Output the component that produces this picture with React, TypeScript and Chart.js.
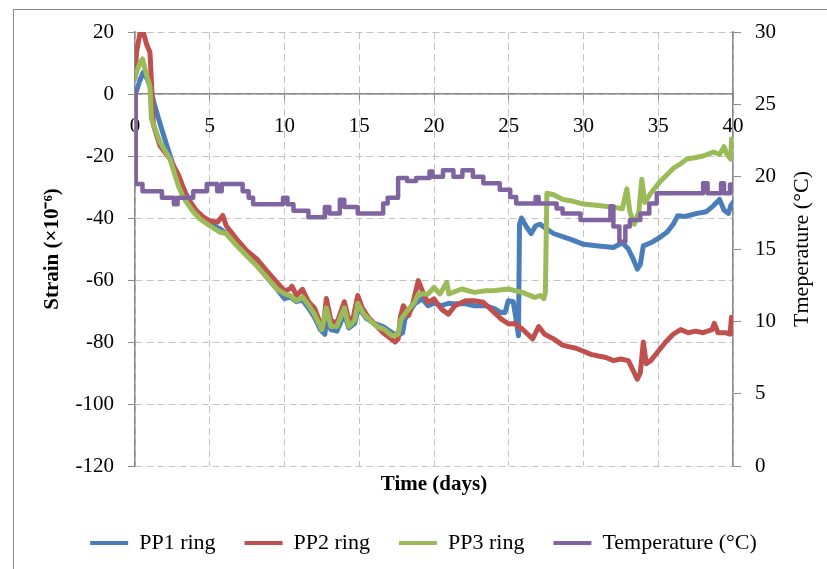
import React, { useEffect, useRef } from "react";
import { Chart, registerables } from "chart.js";

Chart.register(...registerables);

const FONT = "'Liberation Serif', 'Times New Roman', serif";
const GRID = "#c4c4c4";
const AXIS = "#8a8a8a";

const seriesNames = ["PP1 ring", "PP2 ring", "PP3 ring", "Temperature (°C)"];
const seriesColors = ["#4a7ebb", "#c0504d", "#9bbb59", "#8064a2"];
const xTitle = "Time (days)";
const yTitle = "Strain (×10⁻⁶)";
const y2Title = "Tmeperature (°C)";

// PP1 ring (strain, ×10^-6)
const pp1Days = [0, 0.1, 0.3, 0.55, 0.8, 1.0, 1.25, 1.7, 2.35, 2.9, 3.5, 3.9, 4.4, 5.0, 5.7, 6.1, 6.8, 7.5, 8.1, 8.8, 9.5, 10.0, 10.4, 10.8, 11.2, 11.6, 12.0, 12.4, 12.7, 12.85, 13.1, 13.5, 14.0, 14.3, 14.7, 14.95, 15.5, 16.0, 16.6, 17.2, 17.6, 17.9, 18.06, 18.4, 18.7, 19.2, 19.6, 20.0, 20.5, 21.0, 21.4, 22.1, 22.7, 23.5, 24.1, 24.5, 24.75, 24.97, 25.3, 25.5, 25.65, 25.72, 25.85, 26.2, 26.5, 26.8, 27.1, 27.5, 28.0, 28.6, 29.2, 30.0, 31.0, 32.0, 32.6, 33.0, 33.3, 33.6, 33.8, 34.0, 34.5, 35.1, 35.6, 36.0, 36.3, 36.8, 37.6, 38.2, 38.7, 39.1, 39.4, 39.7, 39.85, 40.0];
const pp1Strain = [0, 1, 4, 7, 5, 2.6, -2.6, -10, -20, -28, -33, -37, -39.5, -42, -43.5, -45, -48.5, -52, -55, -59, -63, -66, -65.5, -67, -66.5, -69, -72, -76, -77.5, -71, -76, -76.5, -71, -75.5, -74, -69, -72.5, -74, -75, -77, -78, -77, -72.6, -70, -67.7, -66, -68.3, -67.5, -68.3, -67.5, -67.7, -67.7, -68.3, -68.3, -69.4, -70.5, -70.5, -66.7, -67, -73, -78, -42, -40, -43, -45, -42.5, -42, -43.5, -45, -46, -47, -48.5, -49, -49.5, -48, -50, -53, -56.5, -55, -49, -48, -46.3, -44.5, -42, -39.3, -39.5, -38.5, -38, -36, -34, -37.5, -38.5, -36, -35];

// PP2 ring
const pp2Days = [0, 0.1, 0.35, 0.55, 0.78, 1.0, 1.1, 1.23, 1.67, 2.34, 2.9, 3.46, 4.1, 4.6, 5.0, 5.5, 5.87, 6.1, 6.8, 7.47, 8.14, 8.8, 9.48, 10.0, 10.37, 10.5, 10.8, 11.2, 11.6, 12.0, 12.4, 12.6, 12.8, 13.1, 13.5, 14.0, 14.3, 14.6, 14.9, 15.2, 15.6, 16.0, 16.6, 17.0, 17.4, 17.6, 17.75, 17.95, 18.3, 18.6, 18.95, 19.3, 19.6, 20.0, 20.5, 20.96, 21.4, 22.1, 22.7, 23.3, 23.9, 24.5, 25.0, 25.4, 25.9, 26.6, 27.0, 27.4, 28.0, 28.6, 29.0, 29.5, 30.0, 30.5, 31.0, 31.5, 32.0, 32.5, 33.0, 33.3, 33.6, 33.8, 34.0, 34.2, 34.5, 35.0, 35.5, 36.0, 36.5, 37.0, 37.5, 38.0, 38.6, 38.75, 39.0, 39.5, 39.8, 39.9, 40.0];
const pp2Strain = [5, 13.5, 20, 20, 16, 13.5, 4, -10, -16.7, -21, -26, -33, -37.6, -39.8, -40.9, -41.4, -39.2, -42.5, -46.8, -50.5, -53.2, -57, -60.7, -63.5, -62.9, -62, -65, -63, -67, -69, -74, -75, -66, -73, -74, -67, -73, -72, -65, -69, -72, -74, -77, -78.5, -80, -79, -72, -68.3, -71.5, -67.2, -60.2, -64.5, -67.2, -66.1, -69.4, -71, -68.3, -66.7, -66.7, -67.2, -69.9, -72.6, -74.2, -74, -75.8, -79, -75, -77.5, -79, -81, -81.5, -82, -83, -84, -84.5, -85, -86, -85.5, -86, -89, -92, -90, -80, -87, -86, -83, -80, -77.5, -76, -77, -76.5, -77, -76, -74, -77, -77, -77.5, -72, -72];

// PP3 ring
const pp3Days = [0, 0.1, 0.33, 0.5, 0.78, 1.0, 1.1, 1.67, 2.34, 2.9, 3.2, 3.46, 3.9, 4.35, 5.0, 5.7, 6.1, 6.8, 7.47, 8.14, 8.8, 9.5, 10.0, 10.37, 10.8, 11.2, 11.6, 12.0, 12.5, 12.8, 13.1, 13.5, 14.0, 14.3, 14.7, 14.9, 15.3, 15.7, 16.2, 16.7, 17.2, 17.6, 17.8, 18.2, 18.7, 18.95, 19.6, 20.0, 20.4, 20.85, 21.0, 21.85, 22.7, 23.4, 24.1, 24.97, 25.9, 26.75, 27.1, 27.35, 27.45, 27.55, 28.0, 28.6, 29.2, 30.0, 31.0, 32.0, 32.6, 32.9, 33.1, 33.4, 33.7, 33.9, 34.1, 34.5, 35.1, 35.6, 36.0, 36.5, 36.9, 37.5, 38.0, 38.7, 39.1, 39.4, 39.6, 39.85, 39.9, 40.0];
const pp3Strain = [5, 7, 10, 11.3, 6, 2.6, -8, -15.5, -21, -29.6, -33, -35, -38, -40.3, -42.5, -44.6, -45, -48.9, -52.2, -55.4, -59.1, -62.9, -64.5, -65, -66.7, -65.5, -68, -71, -76, -69, -75, -75, -69, -75, -73, -67.5, -71, -73, -75, -76, -78, -77.5, -72.6, -70, -67.2, -64.5, -64.5, -62.4, -64.5, -60.8, -64.5, -62.9, -64, -63.5, -63.4, -62.9, -64, -65.6, -65, -66, -64, -32, -32.5, -34, -34.5, -35.5, -36, -36.5, -37, -30.6, -38, -42, -38, -27.5, -35, -32, -28.4, -26, -24, -22.5, -21, -20.5, -20, -18.7, -19.5, -17, -19.5, -21, -14.5, -16];

// Temperature (°C), stepped readings
const tempDays = [0, 0.05, 0.5, 1.8, 2.6, 2.85, 3.9, 4.8, 5.5, 5.8, 7.2, 7.6, 7.9, 9.9, 10.2, 10.6, 11.6, 12.7, 13.0, 13.7, 14.0, 14.9, 16.6, 16.9, 17.6, 18.2, 18.8, 19.7, 19.9, 20.6, 21.3, 21.9, 22.6, 23.3, 24.4, 25.1, 25.5, 26.8, 27.0, 28.2, 28.6, 29.8, 31.8, 32.0, 32.4, 32.8, 33.1, 33.8, 34.4, 34.9, 38.0, 38.3, 39.2, 39.4, 39.8, 40];
const tempValues = [25.9, 19.5, 19.0, 18.55, 18.1, 18.55, 19.0, 19.5, 19.0, 19.5, 19.0, 18.55, 18.1, 18.55, 18.1, 17.65, 17.2, 17.9, 17.45, 18.4, 17.9, 17.45, 18.15, 18.55, 19.9, 19.7, 19.9, 20.35, 20.0, 20.45, 20.0, 20.45, 20.0, 19.55, 19.1, 18.6, 18.15, 18.6, 18.15, 17.8, 17.45, 17.0, 17.95, 16.55, 15.5, 16.55, 17.0, 17.45, 18.15, 18.85, 19.55, 18.85, 19.55, 18.85, 19.45, 19.45];

const xRange = [0, 40];
const xStep = 5;
const strainRange = [-120, 20];
const strainStep = 20;
const tempRange = [0, 30];
const tempStep = 5;

const toPoints = (xs: number[], ys: number[]) => xs.map((x, i) => ({ x, y: ys[i] }));

const framePlugin = {
  id: "frameAndRightTitle",
  beforeDraw(chart: any) {
    const { ctx, width, height } = chart;
    ctx.save();
    ctx.fillStyle = "#ffffff";
    ctx.fillRect(0, 0, width, height);
    ctx.strokeStyle = AXIS;
    ctx.lineWidth = 1;
    ctx.strokeRect(13.5, 9.5, width + 50, height + 50);
    ctx.restore();
  },
  afterDraw(chart: any) {
    const { ctx, chartArea } = chart;
    const s = chart.scales.yT;
    ctx.save();
    ctx.translate(s.left + 69, (chartArea.top + chartArea.bottom) / 2);
    ctx.rotate(-Math.PI / 2);
    ctx.font = `22px ${FONT}`;
    ctx.fillStyle = "#000";
    ctx.textAlign = "center";
    ctx.textBaseline = "middle";
    ctx.fillText(y2Title, 0, 0);
    ctx.restore();
  },
};

export default function App() {
  const ref = useRef<HTMLCanvasElement | null>(null);
  useEffect(() => {
    if (!ref.current) return;
    const tickFont = { family: FONT, size: 21 };
    const chart = new Chart(ref.current, {
      type: "line",
      data: {
        datasets: [
          { label: seriesNames[0], data: toPoints(pp1Days, pp1Strain), borderColor: seriesColors[0], backgroundColor: seriesColors[0], yAxisID: "y", xAxisID: "x", order: 4, borderWidth: 5 },
          { label: seriesNames[1], data: toPoints(pp2Days, pp2Strain), borderColor: seriesColors[1], backgroundColor: seriesColors[1], yAxisID: "y", xAxisID: "x", order: 3, borderWidth: 5 },
          { label: seriesNames[2], data: toPoints(pp3Days, pp3Strain), borderColor: seriesColors[2], backgroundColor: seriesColors[2], yAxisID: "y", xAxisID: "x", order: 2, borderWidth: 5 },
          { label: seriesNames[3], data: toPoints(tempDays, tempValues), borderColor: seriesColors[3], backgroundColor: seriesColors[3], yAxisID: "yT", xAxisID: "x", stepped: true, order: 1, borderWidth: 4.5 },
        ],
      },
      options: {
        responsive: false,
        animation: false,
        color: "#000",
        parsing: false as any,
        layout: { padding: { left: 20, right: 0, top: 32, bottom: 5 } },
        elements: {
          point: { radius: 0, hoverRadius: 0 },
          line: { borderWidth: 4, tension: 0, borderJoinStyle: "round", borderCapStyle: "round" },
        },
        plugins: {
          tooltip: { enabled: false },
          legend: {
            position: "bottom",
            labels: {
              boxWidth: 38,
              boxHeight: 4,
              padding: 29,
              color: "#000",
              font: { family: FONT, size: 22 },
              sort: (a: any, b: any) => a.datasetIndex - b.datasetIndex,
              generateLabels: (c: any) =>
                Chart.defaults.plugins.legend.labels.generateLabels(c).map((l: any) => ({
                  ...l,
                  lineWidth: 0,
                  fillStyle: l.strokeStyle,
                })),
            },
          },
        },
        scales: {
          x: {
            type: "linear",
            position: { y: 0 } as any,
            min: xRange[0],
            max: xRange[1],
            ticks: { stepSize: xStep, color: "#000", font: tickFont, padding: 14, maxRotation: 0, autoSkip: false },
            grid: { color: GRID, lineWidth: 1, drawTicks: true, tickLength: 6, tickColor: AXIS },
            border: { display: true, color: AXIS, width: 1.5, dash: [7, 4] },
          },
          x2: {
            type: "linear",
            position: "bottom",
            min: xRange[0],
            max: xRange[1],
            ticks: { display: false },
            grid: { display: false },
            border: { display: false },
            title: { display: true, text: xTitle, color: "#000", font: { family: FONT, size: 21, weight: "bold" }, padding: { top: 0, bottom: 5.4 } },
            afterFit: (s: any) => { s.height = 37; },
          },
          y: {
            type: "linear",
            position: "left",
            min: strainRange[0],
            max: strainRange[1],
            ticks: { stepSize: strainStep, color: "#000", font: tickFont, padding: 14 },
            grid: { color: GRID, lineWidth: 1, tickLength: 7, tickColor: AXIS },
            border: { display: true, color: AXIS, width: 1.5, dash: [7, 4] },
            title: { display: true, text: yTitle, color: "#000", font: { family: FONT, size: 21, weight: "bold" }, padding: { top: 20.4, bottom: 0 } },
            afterFit: (s: any) => { s.width = 115; },
          },
          yT: {
            type: "linear",
            position: "right",
            min: tempRange[0],
            max: tempRange[1],
            ticks: { stepSize: tempStep, color: "#000", font: tickFont, padding: 14 },
            grid: { drawOnChartArea: false, color: AXIS, tickLength: 8, tickColor: AXIS },
            border: { display: true, color: AXIS, width: 1.5 },
            afterFit: (s: any) => { s.width = 94; },
          },
        },
      } as any,
      plugins: [framePlugin],
    });
    return () => chart.destroy();
  }, []);
  return (
    <div style={{ position: "fixed", left: 0, top: 0, width: 827, height: 569, background: "#fff" }}>
      <canvas ref={ref} width={827} height={569} style={{ display: "block", width: 827, height: 569 }} />
    </div>
  );
}
